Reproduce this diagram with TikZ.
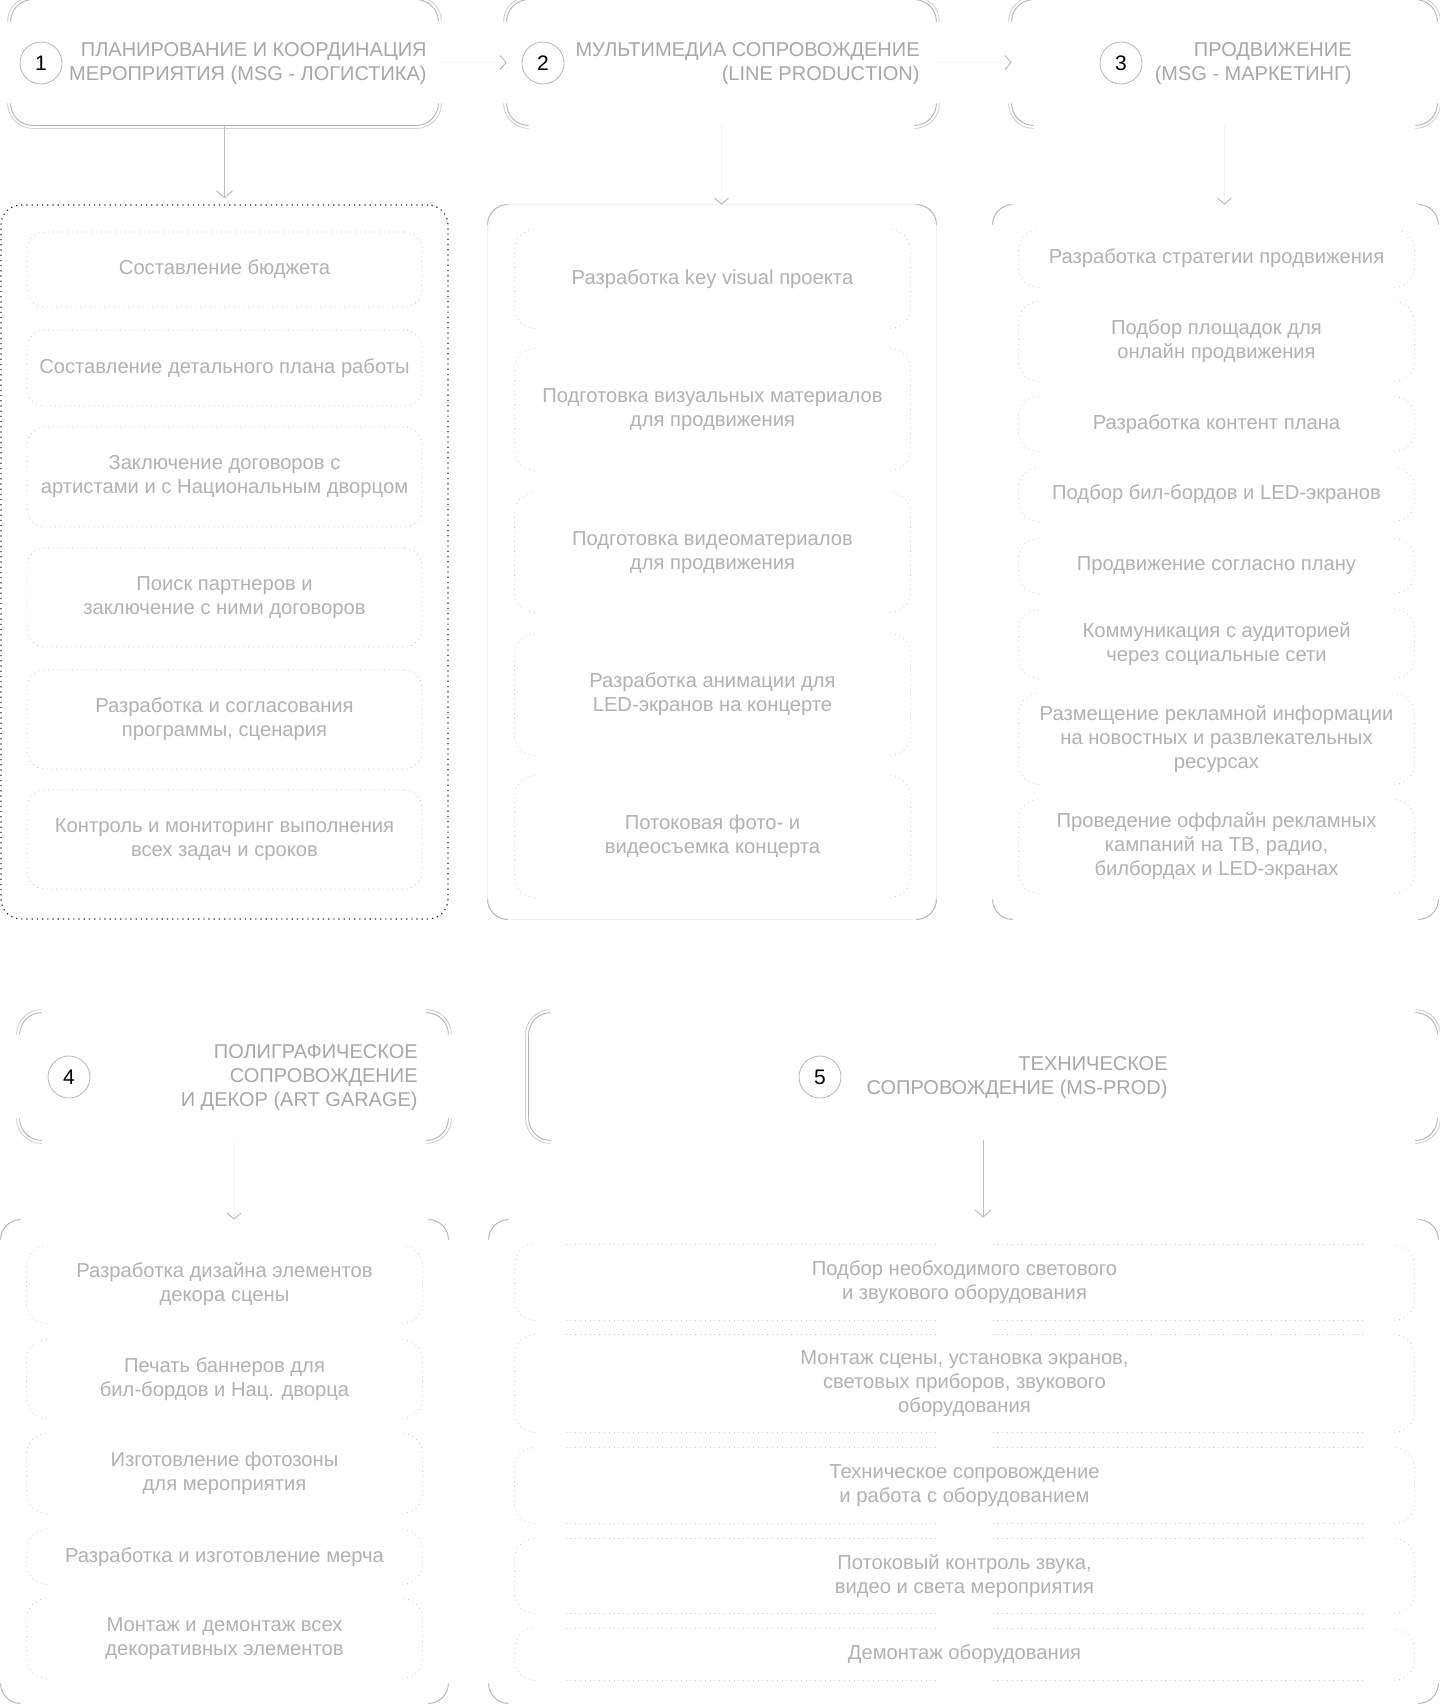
\documentclass[tikz,border=0pt]{standalone}
\usepackage{fontspec}
\setmainfont{Liberation Sans}
\usetikzlibrary{arrows.meta,fit,calc}
% corner arcs: #1 node, #2 radius, #3 outward offset, #4 style
\newcommand\crn[4]{%
 \draw[#4,rounded corners=#2] ([shift={(-#3,#3-#2)}]#1.north west) -- ([shift={(-#3,#3)}]#1.north west) -- ([shift={(#2-#3,#3)}]#1.north west);
 \draw[#4,rounded corners=#2] ([shift={(#3-#2,#3)}]#1.north east) -- ([shift={(#3,#3)}]#1.north east) -- ([shift={(#3,#3-#2)}]#1.north east);
 \draw[#4,rounded corners=#2] ([shift={(#3,#2-#3)}]#1.south east) -- ([shift={(#3,-#3)}]#1.south east) -- ([shift={(#3-#2,-#3)}]#1.south east);
 \draw[#4,rounded corners=#2] ([shift={(#2-#3,-#3)}]#1.south west) -- ([shift={(-#3,-#3)}]#1.south west) -- ([shift={(-#3,#2-#3)}]#1.south west);}
% side brackets: #1 node, #2 radius, #3 style
\newcommand\brk[3]{%
 \draw[#3,rounded corners=#2] ([xshift=#2]#1.south west) -- (#1.south west) -- (#1.north west) -- ([xshift=#2]#1.north west);
 \draw[#3,rounded corners=#2] ([xshift=-#2]#1.south east) -- (#1.south east) -- (#1.north east) -- ([xshift=-#2]#1.north east);}
\tikzset{
 box/.style={inner sep=0pt, draw=none},
 txt/.style={font=\fontsize{10.1}{12}\selectfont, text=black!30, align=center, inner sep=0pt},
 htxt/.style={font=\fontsize{10}{12}\selectfont, text=black!34, align=right, anchor=east, inner sep=0pt},
 num/.style={circle, draw=black!28, line width=0.4pt, minimum size=21pt, inner sep=0pt, font=\fontsize{10.5}{12}\selectfont, text=black},
 arc/.style={draw=black!30, line width=0.45pt},
 arcb/.style={draw=black!18, line width=0.45pt},
 side/.style={draw=black!22, line width=0.4pt, dotted},
 itemA/.style={box, draw=black!25, line width=0.4pt, dotted, rounded corners=9pt},
 contA/.style={box, draw=black!85, line width=0.6pt, dotted, rounded corners=10pt},
 vconn/.style={draw=black!25, line width=0.5pt, -{Straight Barb[length=3.5pt,width=8pt]}},
 ghost/.style={draw=black!4, line width=0.4pt, -{Straight Barb[length=3pt,width=7pt,color=black!30]}},
}
\begin{document}
\begin{tikzpicture}[x=0.5pt,y=-0.5pt]
\useasboundingbox (0,0) rectangle (1440,1704);
\fill[white] (0,0) rectangle (1440,1704);

% ---------------- headers ----------------
\node[box, fit={(11,0)(438,125)}] (h1) {};
\node[box, fit={(507,0)(936,125)}] (h2) {};
\node[box, fit={(1012,0)(1437,125)}] (h3) {};
\node[box, fit={(20,1013)(448,1140)}] (h4) {};
\node[box, fit={(529,1013)(1437,1140)}] (h5) {};
\foreach \h in {h1,h2,h3,h4}{\crn{\h}{11pt}{0pt}{arc}\crn{\h}{12.5pt}{1.5pt}{arcb}}
\crn{h5}{11pt}{0pt}{arc}\crn{h5}{12.5pt}{1.5pt}{arcb}
\draw[arc] ([yshift=-11pt]h5.north west) -- ([yshift=11pt]h5.south west);
\draw[arcb] ([shift={(-1.5pt,-11pt)}]h5.north west) -- ([shift={(-1.5pt,11pt)}]h5.south west);
\draw[arc] ([xshift=11pt]h1.south west) -- ([xshift=-11pt]h1.south east);
\draw[arcb] ([shift={(11pt,-1.5pt)}]h1.south west) -- ([shift={(-11pt,-1.5pt)}]h1.south east);

\node[num] (n1) at (41,63) {1};
\node[num] (n2) at (543,63) {2};
\node[num] (n3) at (1121,63) {3};
\node[num] (n4) at (69,1077) {4};
\node[num] (n5) at (820,1077) {5};

\node[htxt] (t1) at (427,64) {ПЛАНИРОВАНИЕ И КООРДИНАЦИЯ\\МЕРОПРИЯТИЯ (MSG - ЛОГИСТИКА)};
\node[htxt] (t2) at (920,64) {МУЛЬТИМЕДИА СОПРОВОЖДЕНИЕ\\(LINE PRODUCTION)};
\node[htxt] (t3) at (1352,64) {ПРОДВИЖЕНИЕ\\(MSG - МАРКЕТИНГ)};
\node[htxt] (t4) at (418,1078) {ПОЛИГРАФИЧЕСКОЕ\\СОПРОВОЖДЕНИЕ\\И ДЕКОР (ART GARAGE)};
\node[htxt] (t5) at (1168,1078) {ТЕХНИЧЕСКОЕ\\СОПРОВОЖДЕНИЕ (MS-PROD)};

% ---------------- containers ----------------
\node[contA, fit={(1,205)(448,919)}] (c1) {};
\node[box, fit={(488,205)(936,919)}] (c2) {};
\node[box, fit={(993,205)(1438,919)}] (c3) {};
\node[box, fit={(1,1220)(448,1703)}] (c4) {};
\node[box, fit={(489,1220)(1438,1703)}] (c5) {};
\draw[draw=black!5, rounded corners=10pt] (c2.north west) rectangle (c2.south east);
\foreach \c in {c2,c3,c4,c5}{\crn{\c}{10pt}{0pt}{arc}}

% ---------------- connectors ----------------
\draw[vconn, shorten >=3pt] (h1.south) -- (h1.south |- c1.north);
\draw[ghost] (h1.east) -- (h2.west);
\draw[ghost] (h2.east) -- (h3.west);
\draw[ghost] (h2.south) -- (h2.south |- c2.north);
\draw[ghost] (h3.south) -- (h3.south |- c3.north);
\draw[ghost] (h4.south) -- (h4.south |- c4.north);
\draw[vconn, shorten >=1pt] (h5.south) -- (h5.south |- c5.north);

% ---------------- column 1 ----------------
\node[itemA, fit={(27,232)(422,307)}] (a1) {};
\node[itemA, fit={(27,330)(422,406)}] (a2) {};
\node[itemA, fit={(27,427)(422,527)}] (a3) {};
\node[itemA, fit={(27,548)(422,647)}] (a4) {};
\node[itemA, fit={(27,670)(422,769)}] (a5) {};
\node[itemA, fit={(27,790)(422,889)}] (a6) {};
\node[txt] (a1t) at (a1) {Составление бюджета};
\node[txt] (a2t) at (a2) {Составление детального плана работы};
\node[txt] (a3t) at (a3) {Заключение договоров с\\артистами и с Национальным дворцом};
\node[txt] (a4t) at (a4) {Поиск партнеров и\\заключение с ними договоров};
\node[txt] (a5t) at (a5) {Разработка и согласования\\программы, сценария};
\node[txt] (a6t) at (a6) {Контроль и мониторинг выполнения\\всех задач и сроков};

% ---------------- column 2 ----------------
\node[box, fit={(515,230)(910,328)}] (b1) {};
\node[box, fit={(515,349)(910,470)}] (b2) {};
\node[box, fit={(515,493)(910,612)}] (b3) {};
\node[box, fit={(515,634)(910,755)}] (b4) {};
\node[box, fit={(515,776)(910,897)}] (b5) {};
\foreach \b in {b1,b2,b3,b4,b5}{\brk{\b}{10pt}{side}}
\node[txt] (b1t) at (b1) {Разработка key visual проекта};
\node[txt] (b2t) at (b2) {Подготовка визуальных материалов\\для продвижения};
\node[txt] (b3t) at (b3) {Подготовка видеоматериалов\\для продвижения};
\node[txt] (b4t) at (b4) {Разработка анимации для\\LED-экранов на концерте};
\node[txt] (b5t) at (b5) {Потоковая фото- и\\видеосъемка концерта};

% ---------------- column 3 ----------------
\node[box, fit={(1019,230)(1414,287)}] (d1) {};
\node[box, fit={(1019,302)(1414,381)}] (d2) {};
\node[box, fit={(1019,397)(1414,451)}] (d3) {};
\node[box, fit={(1019,468)(1414,521)}] (d4) {};
\node[box, fit={(1019,539)(1414,593)}] (d5) {};
\node[box, fit={(1019,610)(1414,678)}] (d6) {};
\node[box, fit={(1019,694)(1414,784)}] (d7) {};
\node[box, fit={(1019,800)(1414,893)}] (d8) {};
\foreach \d in {d1,d2,d3,d4,d5,d6,d7,d8}{\brk{\d}{10pt}{side}}
\node[txt] (d1t) at (d1) {Разработка стратегии продвижения};
\node[txt] (d2t) at (d2) {Подбор площадок для\\онлайн продвижения};
\node[txt] (d3t) at (d3) {Разработка контент плана};
\node[txt] (d4t) at (d4) {Подбор бил-бордов и LED-экранов};
\node[txt] (d5t) at (d5) {Продвижение согласно плану};
\node[txt] (d6t) at (d6) {Коммуникация с аудиторией\\через социальные сети};
\node[txt] (d7t) at (d7) {Размещение рекламной информации\\на новостных и развлекательных\\ресурсах};
\node[txt] (d8t) at (d8) {Проведение оффлайн рекламных\\кампаний на ТВ, радио,\\билбордах и LED-экранах};

% ---------------- column 4 ----------------
\node[box, fit={(27,1246)(422,1323)}] (e1) {};
\node[box, fit={(27,1340)(422,1418)}] (e2) {};
\node[box, fit={(27,1434)(422,1513)}] (e3) {};
\node[box, fit={(27,1530)(422,1584)}] (e4) {};
\node[box, fit={(27,1599)(422,1678)}] (e5) {};
\foreach \e in {e1,e2,e3,e4,e5}{\brk{\e}{10pt}{side}}
\node[txt] (e1t) at (e1) {Разработка дизайна элементов\\декора сцены};
\node[txt] (e2t) at (e2) {Печать баннеров для\\бил-бордов и Нац. дворца};
\node[txt] (e3t) at (e3) {Изготовление фотозоны\\для мероприятия};
\node[txt] (e4t) at (e4) {Разработка и изготовление мерча};
\node[txt] (e5t) at (e5) {Монтаж и демонтаж всех\\декоративных элементов};

% ---------------- column 5 ----------------
\node[box, fit={(515,1245)(1414,1320)}] (f1) {};
\node[box, fit={(515,1335)(1414,1432)}] (f2) {};
\node[box, fit={(515,1448)(1414,1523)}] (f3) {};
\node[box, fit={(515,1539)(1414,1613)}] (f4) {};
\node[box, fit={(515,1629)(1414,1680)}] (f5) {};
\foreach \f in {f1,f2,f3,f4,f5}{%
 \brk{\f}{10pt}{side}
 \draw[side] ($(\f.north west)+(51,0)$) -- ($(\f.north)+(-28,0)$);
 \draw[side] ($(\f.north)+(28,0)$) -- ($(\f.north east)+(-51,0)$);
 \draw[side] ($(\f.south west)+(51,0)$) -- ($(\f.south)+(-28,0)$);
 \draw[side] ($(\f.south)+(28,0)$) -- ($(\f.south east)+(-51,0)$);}
\node[txt] (f1t) at (f1) {Подбор необходимого светового\\и звукового оборудования};
\node[txt] (f2t) at (f2) {Монтаж сцены, установка экранов,\\световых приборов, звукового\\оборудования};
\node[txt] (f3t) at (f3) {Техническое сопровождение\\и работа с оборудованием};
\node[txt] (f4t) at (f4) {Потоковый контроль звука,\\видео и света мероприятия};
\node[txt] (f5t) at (f5) {Демонтаж оборудования};
\end{tikzpicture}
\end{document}
